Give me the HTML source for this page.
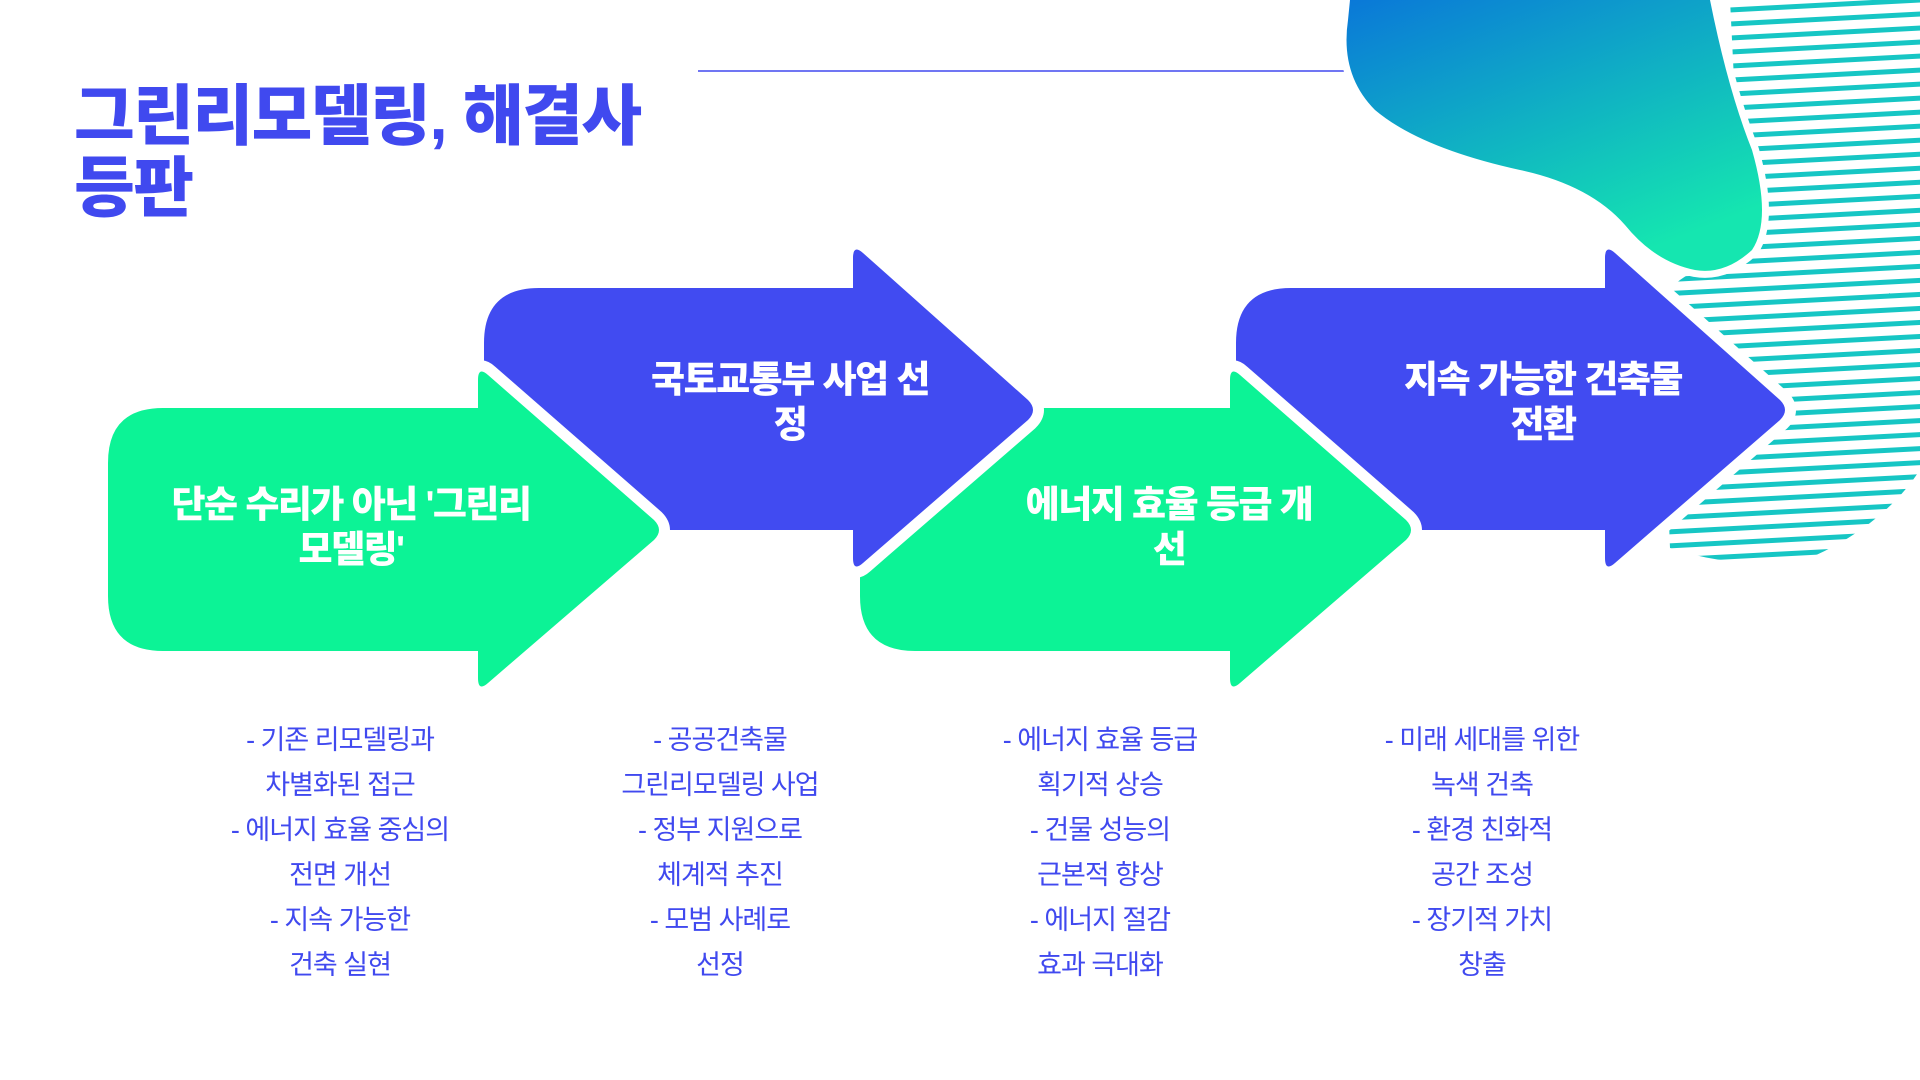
<!DOCTYPE html>
<html><head><meta charset="utf-8"><style>
html,body{margin:0;padding:0;background:#fff;width:1920px;height:1080px;overflow:hidden}
body{position:relative;font-family:"Liberation Sans","Noto Sans CJK KR",sans-serif}
.title{position:absolute;left:74px;top:80px;color:#4049ef;font-size:66px;font-weight:900;line-height:72px;letter-spacing:-1.5px;font-family:"Liberation Sans","Noto Sans CJK KR",sans-serif}
.lab{position:absolute;color:#fff;font-weight:900;font-size:37px;line-height:45px;text-align:center;width:440px;letter-spacing:-1.5px}
.col{position:absolute;top:718px;width:320px;text-align:center;color:#4049ef;font-size:27px;line-height:45px;letter-spacing:-1px}
</style></head><body>
<svg width="1920" height="1080" style="position:absolute;left:0;top:0">
<defs>
<linearGradient id="bg" x1="0" y1="0" x2="0.6" y2="1">
<stop offset="0" stop-color="#0a78d8"/><stop offset="1" stop-color="#15e6b0"/></linearGradient>
<linearGradient id="sg" gradientUnits="userSpaceOnUse" x1="1650" y1="0" x2="1920" y2="0">
<stop offset="0" stop-color="#16c6c4"/><stop offset="0.5" stop-color="#12b8c8"/><stop offset="1" stop-color="#1090d6"/></linearGradient>
<pattern id="st" patternUnits="userSpaceOnUse" width="400" height="14" patternTransform="rotate(-3)">
<rect x="0" y="0" width="400" height="5" fill="url(#sg)"/></pattern>
<clipPath id="sc"><path d="M1730,0 H1920 V470 Q1880,530 1800,562 Q1730,568 1670,548 L1660,300 Q1680,275 1700,270 L1735,100 Z"/></clipPath>
</defs>
<line x1="698" y1="71" x2="1360" y2="71" stroke="#4049ef" stroke-width="1.5"/>
<rect x="1600" y="0" width="320" height="580" fill="url(#st)" clip-path="url(#sc)"/>
<path d="M1350,0 H1710 Q1728,90 1752,150 Q1772,220 1752,250 Q1725,275 1695,270 Q1655,262 1625,225 Q1590,185 1520,170 Q1420,148 1375,110 Q1340,75 1348,20 Z" fill="url(#bg)" stroke="#fff" stroke-width="14" paint-order="stroke"/>
<g stroke="#fff" stroke-width="22" paint-order="stroke" stroke-linejoin="round">
<path transform="translate(752,0)" d="M539,288 H853 V258 Q853,244 863,253 L1028,400 Q1038,410 1028,420 L863,563 Q853,572 853,558 V530 H539 Q484,530 484,475 V343 Q484,288 539,288 Z" fill="#414bf1"/>
<path transform="translate(752,0)" d="M163,408 H478 V380 Q478,366 488,375 L654,520 Q664,530 654,540 L488,683 Q478,692 478,678 V651 H163 Q108,651 108,596 V463 Q108,408 163,408 Z" fill="#0cf396"/>
<path d="M539,288 H853 V258 Q853,244 863,253 L1028,400 Q1038,410 1028,420 L863,563 Q853,572 853,558 V530 H539 Q484,530 484,475 V343 Q484,288 539,288 Z" fill="#414bf1"/>
<path d="M163,408 H478 V380 Q478,366 488,375 L654,520 Q664,530 654,540 L488,683 Q478,692 478,678 V651 H163 Q108,651 108,596 V463 Q108,408 163,408 Z" fill="#0cf396"/>
</g>
</svg>
<div class="title">그린리모델링, 해결사<br>등판</div>
<div class="lab" style="left:131px;top:482px">단순 수리가 아닌 '그린리<br>모델링'</div>
<div class="lab" style="left:570px;top:357px">국토교통부 사업 선<br>정</div>
<div class="lab" style="left:949px;top:482px">에너지 효율 등급 개<br>선</div>
<div class="lab" style="left:1323px;top:357px">지속 가능한 건축물<br>전환</div>
<div class="col" style="left:180px">- 기존 리모델링과<br>차별화된 접근<br>- 에너지 효율 중심의<br>전면 개선<br>- 지속 가능한<br>건축 실현</div>
<div class="col" style="left:560px">- 공공건축물<br>그린리모델링 사업<br>- 정부 지원으로<br>체계적 추진<br>- 모범 사례로<br>선정</div>
<div class="col" style="left:940px">- 에너지 효율 등급<br>획기적 상승<br>- 건물 성능의<br>근본적 향상<br>- 에너지 절감<br>효과 극대화</div>
<div class="col" style="left:1322px">- 미래 세대를 위한<br>녹색 건축<br>- 환경 친화적<br>공간 조성<br>- 장기적 가치<br>창출</div>
</body></html>
